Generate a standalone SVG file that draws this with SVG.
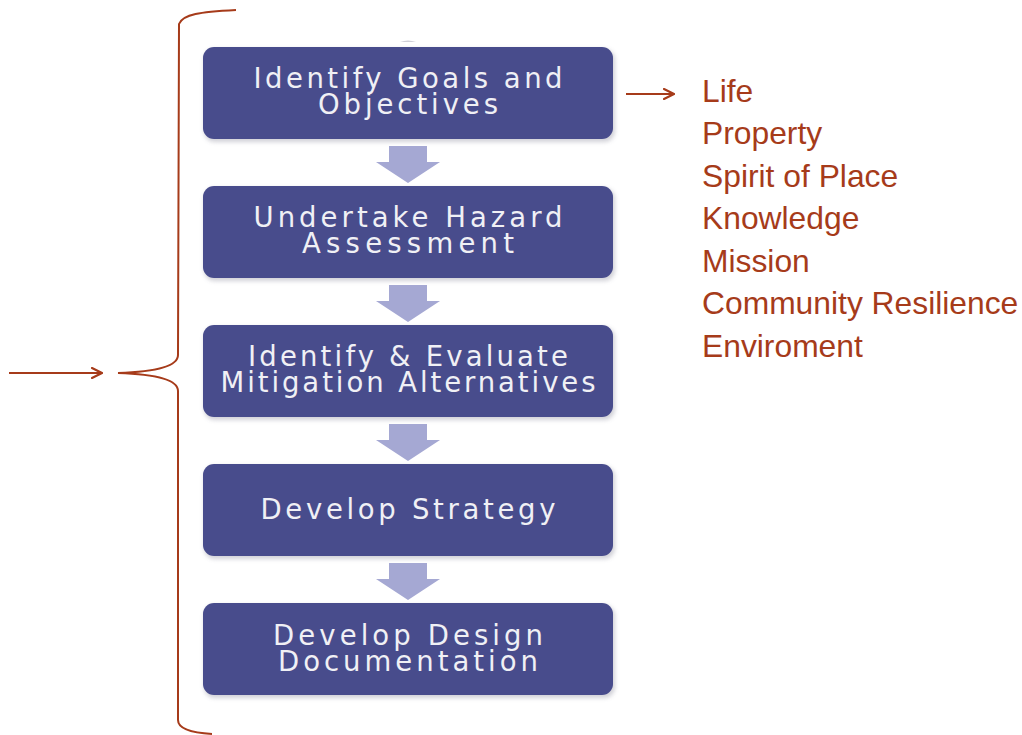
<svg xmlns="http://www.w3.org/2000/svg" width="1022" height="735" viewBox="0 0 1022 735">
<defs>
<style>
.box{fill:#484C8C;}
.shadow{fill:#9a9aa8;opacity:0.45;}
.bt{font-family:"DejaVu Sans",Verdana,sans-serif;font-size:27.5px;fill:#F0F0F5;text-anchor:middle;}
.down{fill:#A5A8D3;}
.red{stroke:#A63B1A;stroke-width:2;fill:none;}
.lt{font-family:"Liberation Sans",Arial,sans-serif;font-size:31.8px;fill:#A63B1A;}
</style>
<marker id="ah" viewBox="0 0 12 12" refX="11" refY="6" markerWidth="12" markerHeight="12" markerUnits="userSpaceOnUse" orient="auto">
<path d="M1,1 L11,6 L1,11" fill="none" stroke="#A63B1A" stroke-width="2.2" stroke-linecap="round"/>
</marker>
<filter id="blur" x="-10%" y="-10%" width="120%" height="130%"><feGaussianBlur stdDeviation="2"/></filter>
</defs>
<rect x="0" y="0" width="1022" height="735" fill="#FFFFFF"/>
<path d="M400,42 Q408,39 416,42 Z" fill="#D0D0D8"/>
<g id="connectors">
<path class="down" d="M389,146 H427 V162 H440 L408,183 L376,162 H389 Z"/>
<path class="down" d="M389,285 H427 V301 H440 L408,322 L376,301 H389 Z"/>
<path class="down" d="M389,424 H427 V440 H440 L408,461 L376,440 H389 Z"/>
<path class="down" d="M389,563 H427 V579 H440 L408,600 L376,579 H389 Z"/>
<line class="red" x1="626" y1="94" x2="674" y2="94" marker-end="url(#ah)"/>
<line class="red" x1="9" y1="373" x2="102" y2="373" marker-end="url(#ah)"/>
<path class="red" d="M236,10 C200,12 183,14 179,24 L178,355 C178,368 150,372 118,373 C150,374 178,378 178,391 L178,720 C178,730 195,733 212,734"/>
</g>
<g id="node1">
<rect class="shadow" x="204" y="49" width="411" height="93" rx="11" filter="url(#blur)"/>
<rect class="box" x="203" y="47" width="410" height="92" rx="11"/>
<text class="bt" x="408" y="88" textLength="309" lengthAdjust="spacing">Identify Goals and</text>
<text class="bt" x="408" y="114" textLength="180" lengthAdjust="spacing">Objectives</text>
</g>
<g id="node2">
<rect class="shadow" x="204" y="188" width="411" height="93" rx="11" filter="url(#blur)"/>
<rect class="box" x="203" y="186" width="410" height="92" rx="11"/>
<text class="bt" x="408" y="227" textLength="309" lengthAdjust="spacing">Undertake Hazard</text>
<text class="bt" x="408" y="253" textLength="212" lengthAdjust="spacing">Assessment</text>
</g>
<g id="node3">
<rect class="shadow" x="204" y="327" width="411" height="93" rx="11" filter="url(#blur)"/>
<rect class="box" x="203" y="325" width="410" height="92" rx="11"/>
<text class="bt" x="408" y="366" textLength="320" lengthAdjust="spacing">Identify &amp; Evaluate</text>
<text class="bt" x="408" y="392" textLength="375" lengthAdjust="spacing">Mitigation Alternatives</text>
</g>
<g id="node4">
<rect class="shadow" x="204" y="466" width="411" height="93" rx="11" filter="url(#blur)"/>
<rect class="box" x="203" y="464" width="410" height="92" rx="11"/>
<text class="bt" x="408" y="519" textLength="295" lengthAdjust="spacing">Develop Strategy</text>
</g>
<g id="node5">
<rect class="shadow" x="204" y="605" width="411" height="93" rx="11" filter="url(#blur)"/>
<rect class="box" x="203" y="603" width="410" height="92" rx="11"/>
<text class="bt" x="408" y="645" textLength="270" lengthAdjust="spacing">Develop Design</text>
<text class="bt" x="408" y="671" textLength="260" lengthAdjust="spacing">Documentation</text>
</g>
<g id="list">
<text class="lt" x="702" y="102">Life</text>
<text class="lt" x="702" y="144">Property</text>
<text class="lt" x="702" y="187">Spirit of Place</text>
<text class="lt" x="702" y="229">Knowledge</text>
<text class="lt" x="702" y="272">Mission</text>
<text class="lt" x="702" y="314">Community Resilience</text>
<text class="lt" x="702" y="357">Enviroment</text>
</g>
</svg>
